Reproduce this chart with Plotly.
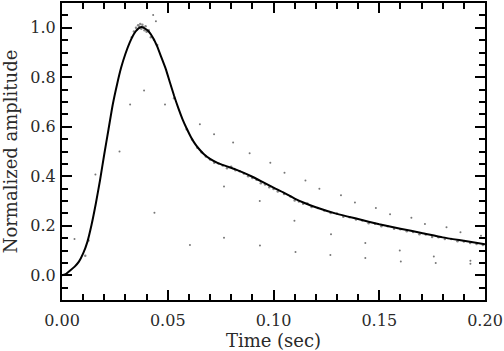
import plotly.graph_objects as go

# Smooth fitted curve (time in sec, normalized amplitude)
curve_t = [0.000, 0.002, 0.004, 0.006, 0.008, 0.010, 0.012, 0.014, 0.016, 0.018, 0.020,
           0.022, 0.024, 0.026, 0.028, 0.030, 0.032, 0.034, 0.036, 0.0375, 0.039, 0.041,
           0.043, 0.045, 0.047, 0.049, 0.051, 0.053, 0.055, 0.057, 0.059, 0.061, 0.063,
           0.065, 0.067, 0.070, 0.074, 0.078, 0.082, 0.086, 0.090, 0.095, 0.100, 0.105,
           0.110, 0.115, 0.120, 0.130, 0.140, 0.150, 0.160, 0.170, 0.180, 0.190, 0.200]
curve_v = [0.000, 0.006, 0.020, 0.035, 0.055, 0.088, 0.135, 0.205, 0.290, 0.385, 0.490,
           0.590, 0.690, 0.770, 0.840, 0.895, 0.940, 0.975, 0.996, 1.003, 0.998, 0.985,
           0.960, 0.925, 0.880, 0.835, 0.780, 0.725, 0.675, 0.630, 0.592, 0.558, 0.530,
           0.508, 0.490, 0.470, 0.452, 0.440, 0.428, 0.414, 0.398, 0.376, 0.354, 0.333,
           0.310, 0.291, 0.275, 0.248, 0.227, 0.206, 0.188, 0.171, 0.153, 0.139, 0.125]

# Measured samples scattered tightly around the curve
near_t = [0.011, 0.0125, 0.0330, 0.0340, 0.0350, 0.0355, 0.0360, 0.0365, 0.0370, 0.0375, 0.0380,
          0.0385, 0.0390, 0.0395, 0.0400, 0.0410, 0.0420, 0.0435, 0.0450, 0.0530, 0.0590,
          0.0615, 0.0640, 0.0660, 0.0680, 0.0700, 0.0720, 0.0740, 0.0760, 0.0780, 0.0800,
          0.0820, 0.0840, 0.0860, 0.0880, 0.0900, 0.0920, 0.0940, 0.0960, 0.0980, 0.1000,
          0.1020, 0.1050, 0.1080, 0.1100, 0.1120, 0.1140, 0.1160, 0.1180, 0.1210, 0.1240,
          0.1270, 0.1300, 0.1330, 0.1360, 0.1390, 0.1420, 0.1450, 0.1480, 0.1510, 0.1540,
          0.1570, 0.1600, 0.1630, 0.1660, 0.1690, 0.1720, 0.1750, 0.1780, 0.1810, 0.1840,
          0.1870, 0.1900, 0.1930, 0.1960, 0.1990]
near_v = [0.079, 0.140, 0.962, 0.985, 1.000, 0.993, 1.010, 1.004, 1.015, 0.996, 1.012,
          1.002, 0.990, 1.006, 0.984, 0.990, 0.962, 0.952, 0.930, 0.715, 0.590,
          0.548, 0.515, 0.497, 0.480, 0.468, 0.455, 0.452, 0.443, 0.432, 0.438,
          0.424, 0.420, 0.411, 0.400, 0.393, 0.386, 0.372, 0.367, 0.356, 0.348,
          0.338, 0.328, 0.318, 0.302, 0.298, 0.289, 0.290, 0.276, 0.272, 0.262,
          0.252, 0.250, 0.236, 0.234, 0.225, 0.221, 0.210, 0.208, 0.198, 0.198,
          0.188, 0.186, 0.178, 0.175, 0.166, 0.165, 0.155, 0.154, 0.146, 0.146,
          0.137, 0.136, 0.130, 0.126, 0.122]

# Sparse outlying samples
out_t = [0.0431, 0.0444, 0.0388, 0.0322, 0.0487, 0.0272, 0.0158, 0.0652, 0.0719, 0.0809,
         0.0887, 0.0985, 0.1052, 0.1151, 0.1217, 0.1319, 0.1385, 0.1484, 0.1551, 0.1652,
         0.1716, 0.1818, 0.1884, 0.1981, 0.0437, 0.0059, 0.0766, 0.0935, 0.1099, 0.1272,
         0.1434, 0.1597, 0.1758, 0.1931, 0.0605, 0.0766, 0.0936, 0.1104, 0.1269, 0.1434,
         0.1602, 0.1767, 0.1931]
out_v = [1.052, 1.026, 0.746, 0.690, 0.690, 0.500, 0.407, 0.610, 0.570, 0.536,
         0.493, 0.455, 0.414, 0.383, 0.350, 0.323, 0.294, 0.272, 0.246, 0.232,
         0.207, 0.194, 0.174, 0.160, 0.253, 0.146, 0.359, 0.300, 0.220, 0.166,
         0.130, 0.100, 0.076, 0.059, 0.122, 0.152, 0.120, 0.094, 0.082, 0.070,
         0.056, 0.050, 0.046]

x_ticks = [0.00, 0.05, 0.10, 0.15, 0.20]
x_labels = ["0.00", "0.05", "0.10", "0.15", "0.20"]
y_ticks = [0.0, 0.2, 0.4, 0.6, 0.8, 1.0]
y_labels = ["0.0", "0.2", "0.4", "0.6", "0.8", "1.0"]

FONT = "DejaVu Serif"
TXT = "#2a2a2a"

fig = go.Figure()
fig.add_trace(go.Scatter(x=out_t, y=out_v, mode="markers",
                         marker=dict(size=2, color="#777777", line=dict(width=0)),
                         showlegend=False, hoverinfo="skip"))
fig.add_trace(go.Scatter(x=near_t, y=near_v, mode="markers",
                         marker=dict(size=2.5, color="#888888", line=dict(width=0)),
                         showlegend=False, hoverinfo="skip"))
fig.add_trace(go.Scatter(x=curve_t, y=curve_v, mode="lines",
                         line=dict(color="black", width=2, shape="spline", smoothing=0.5),
                         showlegend=False))

axis_common = dict(showline=True, linecolor="black", linewidth=2, mirror="allticks",
                   ticks="inside", ticklen=10, tickwidth=1.5, tickcolor="black",
                   showgrid=False, zeroline=False,
                   tickfont=dict(family=FONT, size=16, color=TXT))

fig.update_xaxes(range=[0, 0.2], tickvals=x_ticks, ticktext=x_labels, ticklabelstandoff=5,
                 minor=dict(dtick=0.01, ticklen=6, tickwidth=1.5, tickcolor="black", ticks="inside"),
                 title=dict(text="Time (sec)", font=dict(family=FONT, size=18, color=TXT), standoff=0),
                 **axis_common)
fig.update_yaxes(range=[-0.1, 1.1], tickvals=y_ticks, ticktext=y_labels, ticklabelstandoff=1,
                 minor=dict(dtick=0.05, ticklen=6, tickwidth=1.5, tickcolor="black", ticks="inside"),
                 title=dict(text="Normalized amplitude", font=dict(family=FONT, size=18, color=TXT), standoff=13),
                 **axis_common)

fig.update_layout(width=504, height=351, margin=dict(l=62, r=19, t=1, b=51),
                  plot_bgcolor="white", paper_bgcolor="white",
                  font=dict(family=FONT, size=16))

fig.write_html("out.html", config={"displayModeBar": False},
               post_script="document.body.style.margin='0';")
